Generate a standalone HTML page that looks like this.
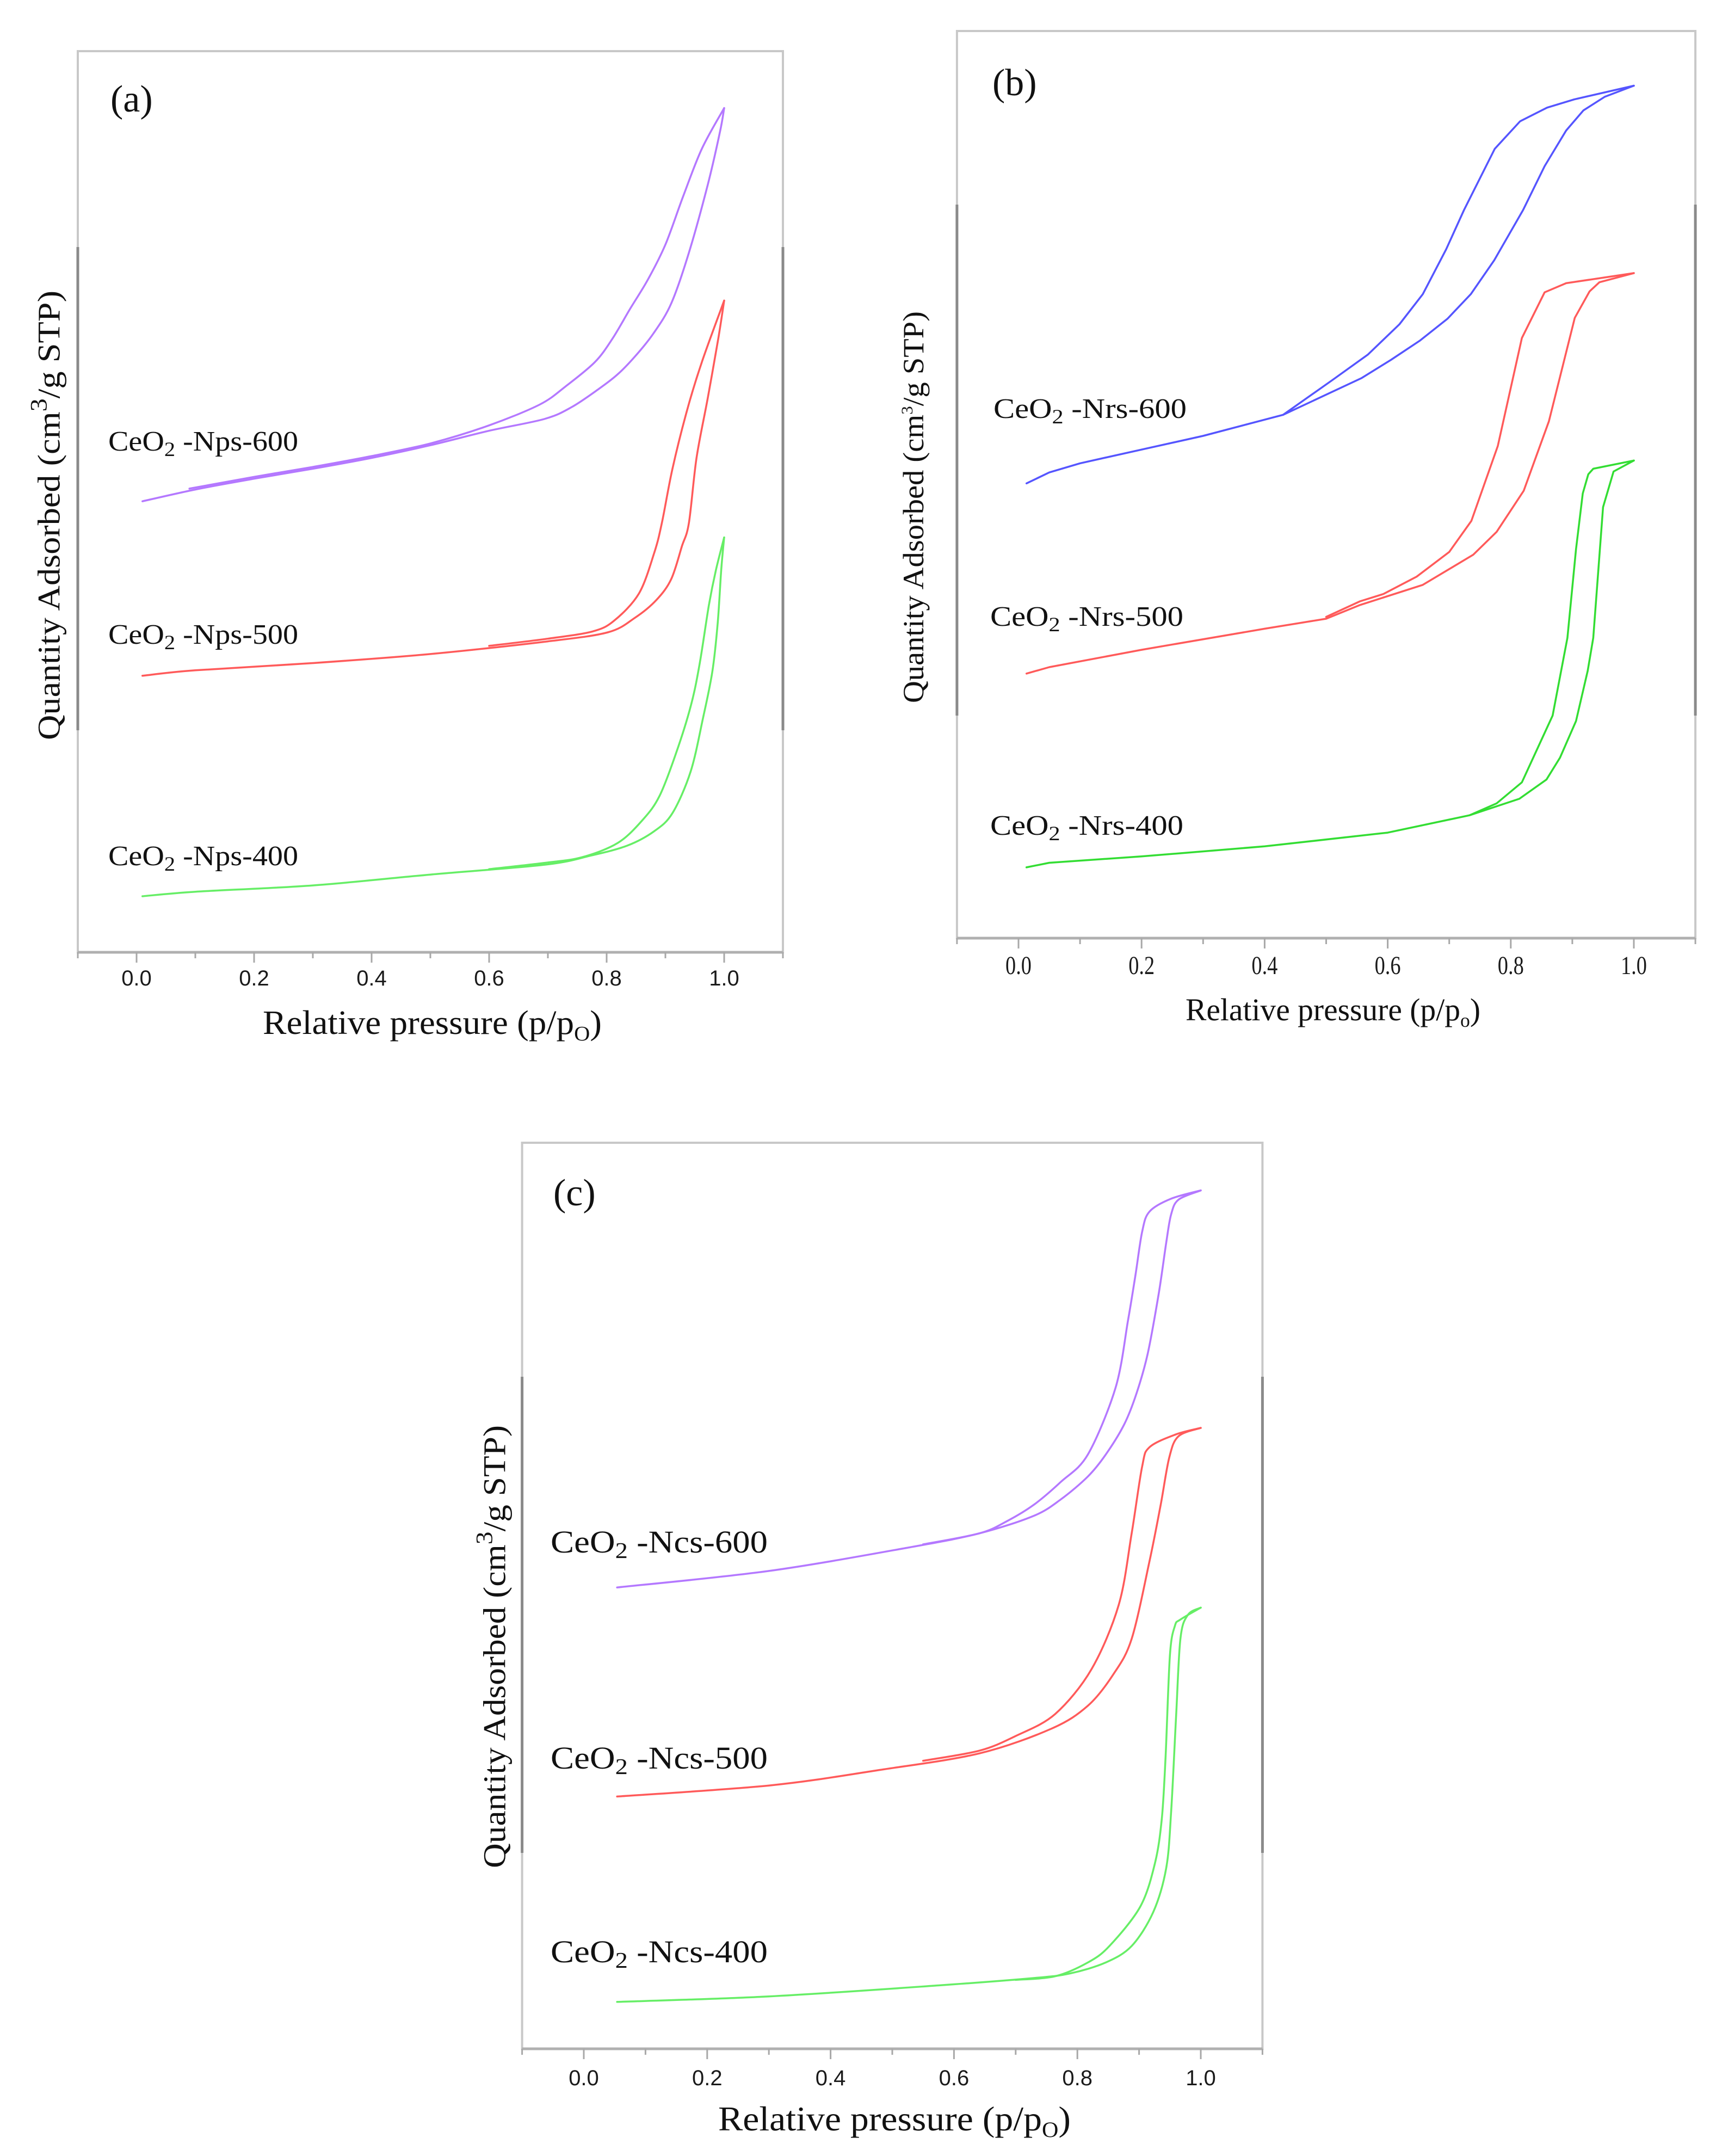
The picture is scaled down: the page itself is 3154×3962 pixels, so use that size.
<!DOCTYPE html>
<html><head><meta charset="utf-8"><style>
html,body{margin:0;padding:0;background:#fff;}
svg{display:block;}
</style></head><body>
<svg id="fig" xmlns="http://www.w3.org/2000/svg" width="3154" height="3962" viewBox="0 0 3154 3962">
<rect x="0" y="0" width="3154" height="3962" fill="#fff"/>
</svg>
<script>
// ---------- data (relative pressure p/p0, quantity adsorbed in arbitrary units) ----------
const xTickLabels = ["0.0","0.2","0.4","0.6","0.8","1.0"];
const xTickValues = [0,0.2,0.4,0.6,0.8,1.0];
const xMinorValues = [-0.1,0.1,0.3,0.5,0.7,0.9,1.1];

// Panel (a) CeO2-Nps
const a600AdsP = [0.01,0.1,0.2,0.3,0.4,0.5,0.6,0.694,0.74,0.786,0.818,0.848,0.88,0.91,0.94,0.972,0.993,1.0];
const a600AdsV = [50.2,51.5,52.7,53.8,55.0,56.4,58.0,59.3,60.6,62.6,64.2,66.2,68.8,72.1,77.7,85.2,91.1,93.7];
const a600DesP = [1.0,0.962,0.93,0.9,0.87,0.84,0.81,0.78,0.73,0.686,0.6,0.5,0.4,0.3,0.2,0.09];
const a600DesV = [93.7,89.2,83.9,78.6,74.7,71.5,68.2,65.6,62.9,60.9,58.6,56.6,55.2,54.0,52.9,51.6];
const a500AdsP = [0.01,0.1,0.3,0.5,0.7,0.802,0.848,0.885,0.91,0.928,0.94,0.953,0.972,0.99,1.0];
const a500AdsV = [30.9,31.5,32.3,33.3,34.7,35.7,37.3,39.3,41.6,45.2,47.8,55.0,61.6,68.2,72.4];
const a500DesP = [1.0,0.962,0.937,0.912,0.894,0.881,0.855,0.813,0.776,0.7,0.6];
const a500DesV = [72.4,65.6,60.3,53.8,47.8,44.5,40.0,37.0,35.8,35.0,34.2];
const a400AdsP = [0.01,0.1,0.3,0.5,0.696,0.773,0.835,0.881,0.912,0.943,0.964,0.98,0.989,0.995,1.0];
const a400AdsV = [6.5,7.0,7.7,8.9,10.0,11.0,12.1,13.7,15.7,20.3,26.2,31.4,36.7,42.6,46.2];
const a400DesP = [1.0,0.986,0.974,0.958,0.943,0.918,0.89,0.862,0.819,0.757,0.695,0.6];
const a400DesV = [46.2,42.6,38.7,32.1,27.5,22.3,17.6,15.0,12.4,10.8,10.2,9.5];

// Panel (b) CeO2-Nrs
const b600AdsP = [0.013,0.05,0.1,0.2,0.3,0.43,0.557,0.605,0.652,0.697,0.735,0.773,0.82,0.855,0.89,0.918,0.953,1.0];
const b600AdsV = [50.1,51.3,52.3,53.8,55.3,57.6,61.6,63.6,65.7,68.1,70.8,74.5,80.0,84.8,88.7,90.9,92.4,93.6];
const b600DesP = [1.0,0.903,0.859,0.815,0.774,0.724,0.695,0.657,0.619,0.568,0.51,0.43];
const b600DesV = [93.6,92.1,91.2,89.7,86.7,80.0,75.7,70.8,67.5,64.2,61.4,57.6];
const b500AdsP = [0.013,0.05,0.2,0.4,0.5,0.555,0.657,0.739,0.777,0.821,0.862,0.904,0.928,0.944,1.0];
const b500AdsV = [29.3,30.0,31.9,34.2,35.3,36.8,39.0,42.3,44.8,49.3,56.9,68.2,71.1,72.1,73.1];
const b500DesP = [1.0,0.89,0.855,0.818,0.779,0.736,0.7,0.647,0.593,0.555,0.5];
const b500DesV = [73.1,72.0,71.0,66.0,54.2,46.0,42.6,39.9,38.0,37.2,35.5];
const b400AdsP = [0.013,0.05,0.2,0.4,0.6,0.733,0.814,0.858,0.88,0.906,0.925,0.934,0.95,0.967,1.0];
const b400AdsV = [8.1,8.6,9.3,10.4,11.9,13.8,15.6,17.7,20.1,24.1,29.6,33.2,47.5,51.4,52.6];
const b400DesP = [1.0,0.934,0.926,0.917,0.906,0.892,0.868,0.818,0.777,0.733];
const b400DesV = [52.6,51.7,51.1,49.0,42.9,33.2,24.7,17.4,15.1,13.8];

// Panel (c) CeO2-Ncs
const c600AdsP = [0.054,0.3,0.53,0.641,0.729,0.773,0.817,0.846,0.876,0.896,0.914,0.932,0.944,0.952,0.964,1.0];
const c600AdsV = [51.5,53.3,55.9,57.4,59.3,61.1,63.6,66.0,69.3,72.7,77.0,83.6,89.1,92.2,93.8,94.8];
const c600DesP = [1.0,0.952,0.917,0.905,0.894,0.882,0.862,0.817,0.773,0.729,0.685,0.641,0.55];
const c600DesV = [94.8,93.9,92.5,90.3,85.5,80.6,73.3,66.0,63.0,60.5,58.7,57.4,56.2];
const c500AdsP = [0.054,0.3,0.48,0.641,0.758,0.817,0.858,0.888,0.917,0.935,0.949,0.964,1.0];
const c500AdsV = [28.7,29.9,31.6,33.4,36.1,38.6,42.0,45.9,54.4,60.5,65.7,68.0,68.9];
const c500DesP = [1.0,0.96,0.917,0.905,0.888,0.867,0.823,0.764,0.7,0.641,0.55];
const c500DesV = [68.9,68.2,66.8,64.7,57.4,49.6,42.6,37.7,35.3,33.7,32.6];
const c400AdsP = [0.054,0.3,0.575,0.729,0.788,0.846,0.888,0.923,0.944,0.952,0.96,0.967,0.979,1.0];
const c400AdsV = [6.3,6.9,8.1,8.9,9.4,10.6,12.4,16.1,20.9,27.1,37.4,45.9,48.5,49.3];
const c400DesP = [1.0,0.967,0.958,0.95,0.943,0.937,0.926,0.902,0.852,0.817,0.764,0.7];
const c400DesV = [49.3,48.0,47.3,44.1,33.1,26.4,21.5,16.7,12.4,10.6,9.1,8.7];

// ---------- rendering ----------
const NS = "http://www.w3.org/2000/svg";
const svg = document.getElementById('fig');
function mk(tag, attrs, parent){ const e=document.createElementNS(NS,tag); for(const k in attrs) e.setAttribute(k,attrs[k]); (parent||svg).appendChild(e); return e; }
function smoothPath(pts){
  let d = 'M'+pts[0][0].toFixed(1)+','+pts[0][1].toFixed(1);
  for(let i=0;i<pts.length-1;i++){
    const p0=pts[Math.max(0,i-1)], p1=pts[i], p2=pts[i+1], p3=pts[Math.min(pts.length-1,i+2)];
    const t=0.16;
    const c1=[p1[0]+(p2[0]-p0[0])*t, p1[1]+(p2[1]-p0[1])*t];
    const c2=[p2[0]-(p3[0]-p1[0])*t, p2[1]-(p3[1]-p1[1])*t];
    d += ' C'+c1[0].toFixed(1)+','+c1[1].toFixed(1)+' '+c2[0].toFixed(1)+','+c2[1].toFixed(1)+' '+p2[0].toFixed(1)+','+p2[1].toFixed(1);
  }
  return d;
}

const panels = [
  {id:'a', x0:251, unit:1080, top:94, axisY:1750, v0:1755, vs:16.61, dark:[454,1342], tickFont:'"Liberation Sans", sans-serif', tickSize:40, tickBase:1811, smooth:true,
   label:'(a)', labelX:203, labelY:205, labelSize:70,
   xtitle:{x:483,y:1900,len:623,size:62,sub:'O'}, ytitle:{x:89,cy:947,len:826,size:58,supBig:true},
   series:[
     {name:'CeO2-Nps-600',color:'#b478ff',ads:[a600AdsP,a600AdsV],des:[a600DesP,a600DesV],lx:199,ly:828,lsize:52,llen:349,ltext:'-Nps-600'},
     {name:'CeO2-Nps-500',color:'#ff5a5a',ads:[a500AdsP,a500AdsV],des:[a500DesP,a500DesV],lx:199,ly:1183,lsize:52,llen:349,ltext:'-Nps-500'},
     {name:'CeO2-Nps-400',color:'#66ee66',ads:[a400AdsP,a400AdsV],des:[a400DesP,a400DesV],lx:199,ly:1590,lsize:52,llen:349,ltext:'-Nps-400'}]},
  {id:'b', x0:1872, unit:1131, top:57, axisY:1724, v0:1730, vs:16.8, dark:[376,1315], tickFont:'"Liberation Serif", serif', tickSize:48, tickBase:1790, tickScaleX:0.8, smooth:false,
   label:'(b)', labelX:1824, labelY:175, labelSize:70,
   xtitle:{x:2179,y:1875,len:542,size:58,sub:'o'}, ytitle:{x:1678,cy:932,len:720,size:54,supBig:false},
   series:[
     {name:'CeO2-Nrs-600',color:'#5555ff',ads:[b600AdsP,b600AdsV],des:[b600DesP,b600DesV],lx:1826,ly:768,lsize:52,llen:355,ltext:'-Nrs-600'},
     {name:'CeO2-Nrs-500',color:'#ff5a5a',ads:[b500AdsP,b500AdsV],des:[b500DesP,b500DesV],lx:1820,ly:1150,lsize:52,llen:355,ltext:'-Nrs-500'},
     {name:'CeO2-Nrs-400',color:'#33dd33',ads:[b400AdsP,b400AdsV],des:[b400DesP,b400DesV],lx:1820,ly:1534,lsize:52,llen:355,ltext:'-Nrs-400'}]},
  {id:'c', x0:1073, unit:1134, top:2100, axisY:3765, v0:3785, vs:16.85, dark:[2530,3405], tickFont:'"Liberation Sans", sans-serif', tickSize:40, tickBase:3832, smooth:true,
   label:'(c)', labelX:1017, labelY:2215, labelSize:70,
   xtitle:{x:1320,y:3915,len:648,size:64,sub:'O'}, ytitle:{x:908,cy:3026,len:814,size:58,supBig:true},
   series:[
     {name:'CeO2-Ncs-600',color:'#b478ff',ads:[c600AdsP,c600AdsV],des:[c600DesP,c600DesV],lx:1012,ly:2853,lsize:58,llen:399,ltext:'-Ncs-600'},
     {name:'CeO2-Ncs-500',color:'#ff5a5a',ads:[c500AdsP,c500AdsV],des:[c500DesP,c500DesV],lx:1012,ly:3250,lsize:58,llen:399,ltext:'-Ncs-500'},
     {name:'CeO2-Ncs-400',color:'#66ee66',ads:[c400AdsP,c400AdsV],des:[c400DesP,c400DesV],lx:1012,ly:3606,lsize:58,llen:399,ltext:'-Ncs-400'}]}
];

panels.forEach(P => {
  const xs = p => P.x0 + p*P.unit;
  const ys = v => P.v0 - v*P.vs;
  const L = xs(-0.1), R = xs(1.1);
  const g = mk('g',{});
  
  
  const fr = mk('rect',{x:L,y:P.top,width:R-L,height:P.axisY-P.top,fill:'none',stroke:'#c8c8c8','stroke-width':4},g);
  
  
  [L,R].forEach((xx,i)=>{
    const d = mk('line',{x1:xx,x2:xx,y1:P.dark[0],y2:P.dark[1],stroke:'#8a8a8a','stroke-width':5},g);
    
    
  });
  const ax = mk('line',{x1:L,x2:R,y1:P.axisY,y2:P.axisY,stroke:'#b0b0b0','stroke-width':5},g);
  
  
  xTickValues.forEach((t,i)=>{
    const tk = mk('line',{x1:xs(t),x2:xs(t),y1:P.axisY,y2:P.axisY+19,stroke:'#a8a8a8','stroke-width':3},g);
    
    
    const tl = mk('text',{x:xs(t),y:P.tickBase,'text-anchor':'middle','font-family':P.tickFont,'font-size':P.tickSize,fill:'#1a1a1a'},g);
    if(P.tickScaleX){ tl.setAttribute('transform',`translate(${xs(t)},0) scale(${P.tickScaleX},1) translate(${-xs(t)},0)`); }
    tl.textContent = xTickLabels[i];
    
    
  });
  xMinorValues.forEach(t=>{
    const tk = mk('line',{x1:xs(t),x2:xs(t),y1:P.axisY,y2:P.axisY+11,stroke:'#a8a8a8','stroke-width':3},g);
    
    
  });
  const pl = mk('text',{x:P.labelX,y:P.labelY,'font-family':'"Liberation Serif", serif','font-size':P.labelSize,fill:'#111'},g);
  pl.textContent = P.label;
  
  
  const xt = mk('text',{x:P.xtitle.x,y:P.xtitle.y,'font-family':'"Liberation Serif", serif','font-size':P.xtitle.size,fill:'#111',textLength:P.xtitle.len,lengthAdjust:'spacingAndGlyphs'},g);
  xt.innerHTML = 'Relative pressure (p/p<tspan font-size="'+(P.xtitle.size*0.62)+'" dy="12">'+P.xtitle.sub+'</tspan><tspan dy="-12">)</tspan>';
  
  
  const yt = mk('text',{x:0,y:0,'text-anchor':'middle','font-family':'"Liberation Serif", serif','font-size':P.ytitle.size,fill:'#111',textLength:P.ytitle.len,lengthAdjust:'spacingAndGlyphs',transform:`translate(${P.ytitle.x+P.ytitle.size*0.35},${P.ytitle.cy}) rotate(-90)`},g);
  const supSize = P.ytitle.supBig ? P.ytitle.size*0.75 : P.ytitle.size*0.55;
  const supDy = P.ytitle.supBig ? 24 : 20;
  yt.innerHTML = 'Quantity Adsorbed (cm<tspan font-size="'+supSize+'" dy="-'+supDy+'">3</tspan><tspan dy="'+supDy+'">/g STP)</tspan>';
  
  
  P.series.forEach(S=>{
    [['ads',S.ads],['des',S.des]].forEach(([kind,arr])=>{
      const pts = arr[0].map((p,i)=> [xs(p), ys(arr[1][i])]);
      let el;
      if(P.smooth){
        el = mk('path',{d:smoothPath(pts),fill:'none',stroke:S.color,'stroke-width':3.5,'stroke-linejoin':'round','stroke-linecap':'round'},g);
      } else {
        el = mk('polyline',{points:pts.map(q=>q[0].toFixed(1)+','+q[1].toFixed(1)).join(' '),fill:'none',stroke:S.color,'stroke-width':3.5,'stroke-linejoin':'round','stroke-linecap':'round'},g);
      }
      
      
    });
    const lt = mk('text',{x:S.lx,y:S.ly,'font-family':'"Liberation Serif", serif','font-size':S.lsize,fill:'#111',textLength:S.llen,lengthAdjust:'spacingAndGlyphs'},g);
    lt.innerHTML = 'CeO<tspan font-size="'+(S.lsize*0.72)+'" dy="10">2</tspan><tspan dy="-10"> '+S.ltext+'</tspan>';
    
    
  });
});
</script>
</body></html>
